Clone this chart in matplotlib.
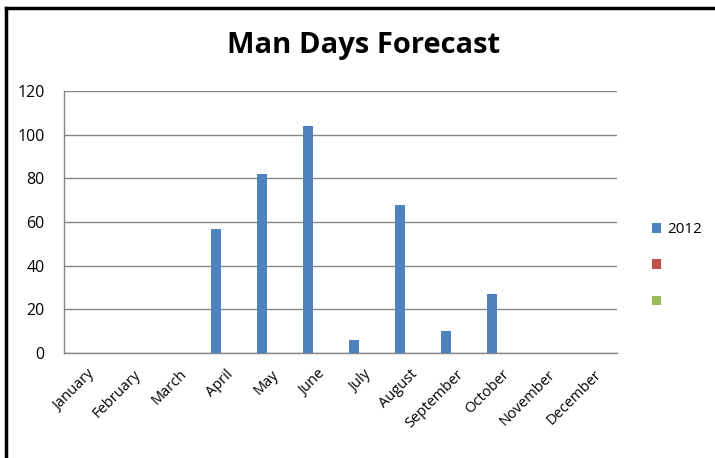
import matplotlib
matplotlib.use("Agg")
import matplotlib.pyplot as plt
import numpy as np
from matplotlib.patches import Patch
from matplotlib.lines import Line2D

months = ["January", "February", "March", "April", "May", "June", "July",
          "August", "September", "October", "November", "December"]
series_2012 = [np.nan, np.nan, np.nan, 57, 82, 104, 6, 68, 10, 27, np.nan, np.nan]
series_b = [np.nan] * 12
series_c = [np.nan] * 12
series_names = ["2012", " ", " "]
colors = ["#4F81BD", "#C0504D", "#9BBB59"]
yticks = [0, 20, 40, 60, 80, 100, 120]

plt.rcParams['font.family'] = ['Open Sans', 'DejaVu Sans']

fig = plt.figure(figsize=(7.15, 4.58), dpi=100)
ax = fig.add_axes([0.0899, 0.2293, 0.7731, 0.572])

x = np.arange(len(months))
bw = 0.21
all_series = [series_2012, series_b, series_c]
for i, (vals, c) in enumerate(zip(all_series, colors)):
    ax.bar(x + (i - 1) * bw, vals, width=bw, color=c, zorder=3)

ax.set_xlim(-0.5, 11.5)
ax.set_ylim(0, 120)
ax.set_yticks(yticks)
ax.set_yticklabels([str(v) for v in yticks], fontsize=11.5)
ax.yaxis.grid(True, color="#868686", linewidth=1.0, zorder=0)
ax.set_xticks(x)
ax.set_xticklabels(months, rotation=45, ha="right", rotation_mode="anchor", fontsize=10.5)
ax.tick_params(axis="both", length=0)
ax.tick_params(axis="y", pad=14)
ax.tick_params(axis="x", pad=10)
for s in ["top", "right"]:
    ax.spines[s].set_visible(False)
for s in ["left", "bottom"]:
    ax.spines[s].set_color("#868686")
    ax.spines[s].set_linewidth(1.0)

fig.text(0.508, 0.9, "Man Days Forecast", ha="center", va="center",
         fontsize=21, fontweight="bold")

handles = [Patch(facecolor=c) for c in colors]
fig.legend(handles, series_names, loc="upper left", bbox_to_anchor=(0.892, 0.545),
           frameon=False, fontsize=11, handlelength=0.6, handleheight=0.6,
           handletextpad=0.45, labelspacing=1.4)

# outer border
fig.add_artist(Line2D([5.5 / 715, 1.0], [1 - 8 / 458, 1 - 8 / 458],
                      transform=fig.transFigure, color="black", linewidth=2.5))
fig.add_artist(Line2D([5.5 / 715, 5.5 / 715], [0, 1 - 8 / 458],
                      transform=fig.transFigure, color="black", linewidth=2.5))

fig.savefig("out.png", dpi=100)
